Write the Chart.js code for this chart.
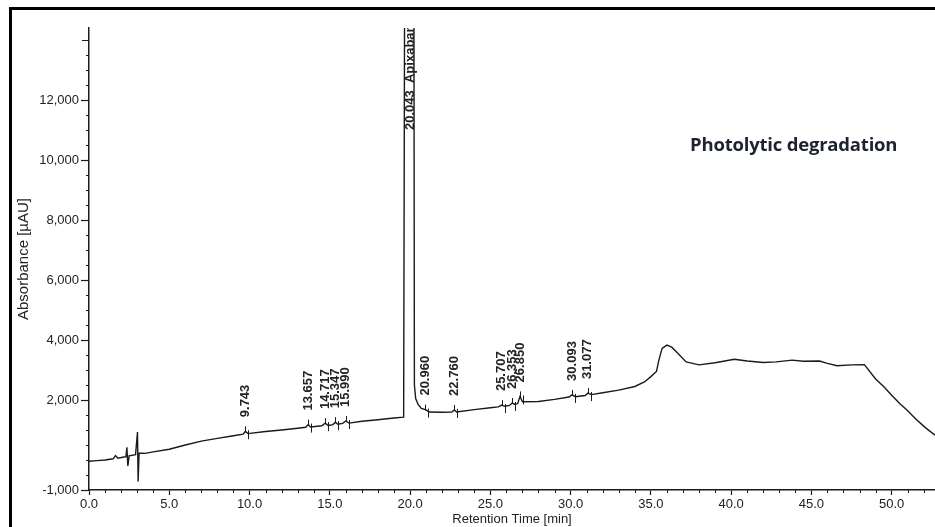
<!DOCTYPE html>
<html>
<head>
<meta charset="utf-8">
<script src="https://cdn.jsdelivr.net/npm/chart.js@4.4.1/dist/chart.umd.min.js"></script>
<style>
    html, body { margin: 0; padding: 0; background: #fff; overflow: hidden; }
    #wrap { position: relative; width: 935px; height: 527px; }
    #frame {
        position: absolute; left: 9px; top: 7px; right: 0; bottom: 0;
        border-top: 3px solid #000; border-left: 3px solid #000;
        pointer-events: none;
    }
    #note {
        position: absolute; left: 690px; top: 131px;
        font-family: "Open Sans", "Noto Sans", sans-serif; font-weight: 700;
        font-size: 18.5px; color: #1d2330; white-space: nowrap; letter-spacing: -0.2px;
    }
</style>
</head>
<body>
<div id="wrap">
    <canvas id="chrom" width="935" height="527"></canvas>
    <div id="note">Photolytic degradation</div>
    <div id="frame"></div>
</div>
<script>
// retention time [min] and absorbance [µAU]
const retentionTime = [
    0.0, 0.5, 1.0, 1.5, 1.65, 1.8, 2.1, 2.3, 2.36, 2.42, 2.5, 2.9, 3.02, 3.06, 3.12, 3.5,
    4.0, 5.0, 6.0, 7.0, 8.0, 9.0, 9.6, 9.743, 9.9, 11.0, 12.0, 13.0, 13.5, 13.657, 13.8,
    14.5, 14.717, 14.9, 15.2, 15.347, 15.5, 15.8, 15.99, 16.2, 17.0, 18.0, 19.0, 19.6,
    19.66, 20.24, 20.27, 20.35, 20.5, 20.7, 20.96, 21.2, 22.0, 22.6, 22.76, 22.9, 24.0,
    25.0, 25.5, 25.707, 25.9, 26.2, 26.353, 26.5, 26.7, 26.85, 27.0, 28.0, 29.0, 29.9,
    30.093, 30.3, 30.9, 31.077, 31.3, 32.0, 33.0, 34.0, 34.6, 35.0, 35.35, 35.5, 35.7,
    36.0, 36.3, 36.6, 37.2, 38.0, 39.0, 40.2, 41.0, 42.0, 42.8, 43.8, 44.5, 45.5, 46.0,
    46.6, 47.5, 48.3, 49.0, 49.5, 50.0, 50.5, 51.0, 51.5, 52.1, 52.7
];
const absorbance = [
    -40, -20, 0, 40, 150, 60, 90, 110, 420, -200, 140, 180, 930, -720, 230, 220,
    270, 360, 500, 630, 720, 810, 860, 960, 880, 950, 1000, 1060, 1090, 1180, 1100,
    1140, 1230, 1150, 1180, 1260, 1190, 1220, 1300, 1230, 1290, 1340, 1400, 1430,
    15500, 15500, 2500, 2050, 1850, 1720, 1680, 1600, 1590, 1600, 1670, 1600, 1680,
    1740, 1770, 1830, 1790, 1820, 1900, 1860, 1880, 2120, 1940, 1950, 2020, 2100,
    2170, 2110, 2150, 2230, 2180, 2240, 2330, 2450, 2600, 2780, 2950, 3330, 3720,
    3830, 3760, 3600, 3270, 3170, 3240, 3360, 3300, 3250, 3270, 3330, 3290, 3300, 3220,
    3140, 3170, 3180, 2700, 2450, 2160, 1880, 1640, 1370, 1080, 830
];

// integrated peaks and their labels
const peakTimes = [9.743, 13.657, 14.717, 15.347, 15.990, 20.043, 20.960, 22.760, 25.707, 26.353, 26.850, 30.093, 31.077];
const peakLabels = ['9.743', '13.657', '14.717', '15.347', '15.990', '20.043  Apixaban', '20.960', '22.760', '25.707', '26.353', '26.850', '30.093', '31.077'];

// axis ticks
const xTicks = [0, 5, 10, 15, 20, 25, 30, 35, 40, 45, 50];
const yTicks = [-1000, 2000, 4000, 6000, 8000, 10000, 12000];

const FONT = '"Liberation Sans", Arial, sans-serif';
const INK = '#1a1a1a';

function traceAt(t) {
    for (let i = 1; i < retentionTime.length; i++) {
        if (t <= retentionTime[i]) {
            const t0 = retentionTime[i - 1], t1 = retentionTime[i];
            const f = (t - t0) / (t1 - t0);
            return absorbance[i - 1] + f * (absorbance[i] - absorbance[i - 1]);
        }
    }
    return absorbance[absorbance.length - 1];
}

// minor axis marks (every 1 min / 500 µAU)
const minorTicks = {
    id: 'minorTicks',
    afterDraw(chart) {
        const { ctx, scales: { x, y } } = chart;
        ctx.save();
        ctx.strokeStyle = INK;
        ctx.lineWidth = 1;
        ctx.beginPath();
        for (let t = Math.ceil(x.min); t <= x.max; t += 1) {
            if (xTicks.includes(t)) continue;
            const px = Math.round(x.getPixelForValue(t)) + 0.5;
            ctx.moveTo(px, y.bottom);
            ctx.lineTo(px, y.bottom + 3);
        }
        for (let v = -500; v <= y.max; v += 500) {
            if (yTicks.includes(v)) continue;
            const py = Math.round(y.getPixelForValue(v)) + 0.5;
            ctx.moveTo(x.left - (v === 14000 ? 7 : 3), py);
            ctx.lineTo(x.left, py);
        }
        ctx.stroke();
        ctx.restore();
    }
};

// peak labels and integration marks
const peakMarks = {
    id: 'peakMarks',
    afterDatasetsDraw(chart) {
        const { ctx, chartArea, scales: { x, y } } = chart;
        ctx.save();
        ctx.beginPath();
        ctx.rect(chartArea.left, chartArea.top, chartArea.right - chartArea.left, chartArea.bottom - chartArea.top);
        ctx.clip();
        ctx.strokeStyle = INK;
        ctx.fillStyle = '#222';
        ctx.lineWidth = 1;
        ctx.font = 'bold 13px ' + FONT;
        ctx.textAlign = 'left';
        ctx.textBaseline = 'middle';
        peakTimes.forEach((t, i) => {
            const px = x.getPixelForValue(t);
            const py = y.getPixelForValue(traceAt(t));
            let bottom;
            if (py < chartArea.top) {
                bottom = chartArea.top + 102;
            } else {
                bottom = py - 14;
                ctx.beginPath();
                ctx.moveTo(Math.round(px) + 0.5, py - 5);
                ctx.lineTo(Math.round(px) + 0.5, py + 1);
                ctx.moveTo(Math.round(px) + 3.5, py - 1);
                ctx.lineTo(Math.round(px) + 3.5, py + 8);
                ctx.stroke();
            }
            ctx.save();
            ctx.translate(px, bottom);
            ctx.rotate(-Math.PI / 2);
            ctx.fillText(peakLabels[i], 0, 0);
            ctx.restore();
        });
        ctx.restore();
    }
};

new Chart(document.getElementById('chrom'), {
    type: 'line',
    data: {
        datasets: [{
            data: retentionTime.map((t, i) => ({ x: t, y: absorbance[i] })),
            borderColor: INK,
            borderWidth: 1.4,
            pointRadius: 0,
            tension: 0,
            fill: false
        }]
    },
    options: {
        responsive: false,
        devicePixelRatio: 1,
        animation: false,
        parsing: false,
        layout: { padding: { top: 28, left: 0, right: 0, bottom: 0 } },
        plugins: { legend: { display: false }, tooltip: { enabled: false } },
        scales: {
            x: {
                type: 'linear',
                min: 0,
                max: 52.7,
                afterBuildTicks: axis => { axis.ticks = xTicks.map(v => ({ value: v })); },
                afterFit: axis => { axis.height = 37; },
                border: { color: INK, width: 1.5 },
                grid: { drawOnChartArea: false, tickLength: 5, color: INK, tickWidth: 1.2 },
                ticks: {
                    padding: 2, color: '#222', maxRotation: 0, autoSkip: false,
                    font: { family: FONT, size: 13 },
                    callback: v => v.toFixed(1)
                },
                title: {
                    display: true, text: 'Retention Time [min]', color: '#222',
                    font: { family: FONT, size: 13 }, padding: { top: 0, bottom: 0 }
                }
            },
            y: {
                type: 'linear',
                min: -1000,
                max: 14400,
                afterBuildTicks: axis => { axis.ticks = yTicks.map(v => ({ value: v })); },
                afterFit: axis => { axis.width = 89; },
                border: { color: INK, width: 1.5 },
                grid: { drawOnChartArea: false, tickLength: 8, color: INK, tickWidth: 1.2 },
                ticks: {
                    padding: 2, color: '#222',
                    font: { family: FONT, size: 13 },
                    callback: v => v.toLocaleString('en-US')
                },
                title: {
                    display: true, text: 'Absorbance [µAU]', color: '#222',
                    font: { family: FONT, size: 15 }, padding: { top: 15, bottom: 0 }
                }
            }
        }
    },
    plugins: [minorTicks, peakMarks]
});
</script>
</body>
</html>
